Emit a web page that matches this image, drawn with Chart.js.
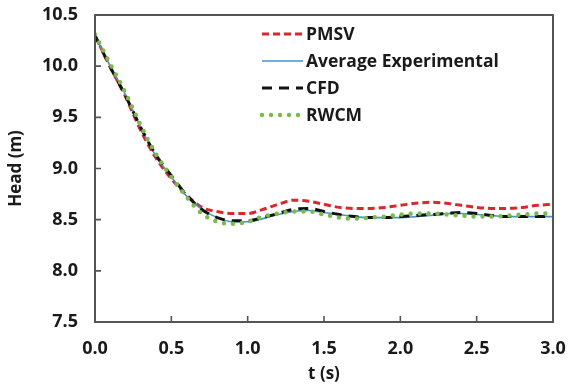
<!DOCTYPE html>
<html>
<head>
<meta charset="utf-8">
<script src="https://cdn.jsdelivr.net/npm/chart.js@4.4.1/dist/chart.umd.min.js"></script>
<style>
  html, body { margin: 0; padding: 0; background: #ffffff; }
  #wrap { width: 574px; height: 387px; position: relative; }
</style>
</head>
<body>
<div id="wrap"><canvas id="c" width="574" height="387"></canvas></div>
<script>
const times = [0.0,0.1,0.2,0.3,0.4,0.5,0.6,0.7,0.8,0.9,1.0,1.1,1.2,1.3,1.4,1.5,1.6,1.7,1.8,1.9,2.0,2.1,2.2,2.3,2.4,2.5,2.6,2.7,2.8,2.9,3.0];
const pmsv = [10.30,9.99,9.70,9.37,9.10,8.90,8.74,8.62,8.58,8.56,8.56,8.60,8.65,8.69,8.68,8.65,8.62,8.61,8.61,8.62,8.64,8.66,8.67,8.66,8.64,8.62,8.61,8.61,8.62,8.64,8.65];
const avgExperimental = [10.30,10.00,9.72,9.40,9.12,8.92,8.73,8.60,8.52,8.48,8.48,8.51,8.55,8.58,8.59,8.57,8.55,8.53,8.52,8.52,8.52,8.53,8.54,8.56,8.56,8.55,8.54,8.53,8.53,8.53,8.53];
const cfd = [10.30,9.99,9.71,9.40,9.13,8.93,8.74,8.60,8.52,8.49,8.49,8.52,8.56,8.60,8.61,8.58,8.55,8.53,8.52,8.52,8.53,8.54,8.55,8.56,8.57,8.56,8.54,8.53,8.53,8.53,8.53];
const rwcm = [10.31,10.02,9.74,9.42,9.14,8.92,8.72,8.56,8.48,8.46,8.48,8.53,8.56,8.58,8.58,8.55,8.52,8.51,8.52,8.53,8.55,8.56,8.56,8.55,8.54,8.53,8.53,8.54,8.55,8.56,8.56];
const seriesNames = ["PMSV","Average Experimental","CFD","RWCM"];
const xTickValues = [0,0.5,1.0,1.5,2.0,2.5,3.0];
const yTickValues = [7.5,8.0,8.5,9.0,9.5,10.0,10.5];

const FONT = "'Open Sans', Lato, sans-serif";
const TXT = "#1a1a1a";

function pts(arr){ return times.map((t,i)=>({x:t,y:arr[i]})); }

const datasets = [
  {label: seriesNames[0], data: pts(pmsv), borderColor:"#e0242b", borderWidth:3, borderDash:[7,4], order:3},
  {label: seriesNames[1], data: pts(avgExperimental), borderColor:"#3f94d6", borderWidth:1.6, borderDash:[], order:2},
  {label: seriesNames[2], data: pts(cfd), borderColor:"#111111", borderWidth:3, borderDash:[10,7], order:1},
  {label: seriesNames[3], data: pts(rwcm), borderColor:"#78bd46", borderWidth:4.5, borderDash:[0,9], borderCapStyle:"round", order:0}
].map(d => Object.assign({pointRadius:0, fill:false, cubicInterpolationMode:"monotone"}, d));

const framePlugin = {
  id: "frame",
  afterDatasetsDraw(chart){
    const {ctx, chartArea:a, scales} = chart;
    ctx.save();
    ctx.strokeStyle = "#555555";
    ctx.lineWidth = 1.6;
    ctx.beginPath();
    yTickValues.forEach(v=>{ const y = scales.y.getPixelForValue(v); ctx.moveTo(a.left, y); ctx.lineTo(a.left+6, y); });
    xTickValues.forEach(v=>{ const x = scales.x.getPixelForValue(v); ctx.moveTo(x, a.bottom); ctx.lineTo(x, a.bottom-6); });
    ctx.stroke();
    ctx.lineWidth = 2;
    ctx.strokeRect(a.left, a.top, a.right-a.left, a.bottom-a.top);
    const lx0 = 262, lx1 = 303, tx = 306;
    const rows = [34, 61, 88, 115];
    chart.data.datasets.forEach((ds,i)=>{
      const y = rows[i];
      ctx.beginPath();
      ctx.strokeStyle = ds.borderColor;
      ctx.lineWidth = ds.borderWidth;
      ctx.setLineDash(ds.borderDash || []);
      ctx.lineCap = ds.borderCapStyle || "butt";
      ctx.moveTo(lx0, y); ctx.lineTo(lx1, y);
      ctx.stroke();
      ctx.setLineDash([]);
      ctx.lineCap = "butt";
      ctx.fillStyle = TXT;
      ctx.font = "bold 17.5px " + FONT;
      ctx.textBaseline = "middle";
      ctx.textAlign = "left";
      ctx.fillText(ds.label, tx, y+1);
    });
    ctx.restore();
  }
};

new Chart(document.getElementById("c"), {
  type: "line",
  data: { datasets },
  options: {
    responsive: false,
    animation: false,
    events: [],
    layout: { padding: { top: 15, right: 21, left: 0, bottom: 0 } },
    plugins: { legend: { display: false }, tooltip: { enabled: false } },
    scales: {
      x: {
        type: "linear", min: 0, max: 3,
        afterBuildTicks(s){ s.ticks = xTickValues.map(v=>({value:v})); },
        afterFit(s){ s.height = 65; s.paddingLeft = 0; s.paddingRight = 0; },
        grid: { display: false, drawTicks: false },
        border: { display: false },
        ticks: { padding: 16, color: TXT, font: { family: FONT, size: 18, weight: "bold" }, callback: v => Number(v).toFixed(1) },
        title: { display: true, text: "t (s)", color: TXT, padding: { top: 0, bottom: 3 }, font: { family: FONT, size: 17, weight: "bold" } }
      },
      y: {
        type: "linear", min: 7.5, max: 10.5,
        afterBuildTicks(s){ s.ticks = yTickValues.map(v=>({value:v})); },
        afterFit(s){ s.width = 95; s.paddingTop = 0; s.paddingBottom = 0; },
        grid: { display: false, drawTicks: false },
        border: { display: false },
        ticks: { padding: 17, color: TXT, font: { family: FONT, size: 18, weight: "bold" }, callback: v => Number(v).toFixed(1) },
        title: { display: true, text: "Head (m)", color: TXT, padding: { top: 6, bottom: 0 }, font: { family: FONT, size: 17, weight: "bold" } }
      }
    }
  },
  plugins: [framePlugin]
});
</script>
</body>
</html>
